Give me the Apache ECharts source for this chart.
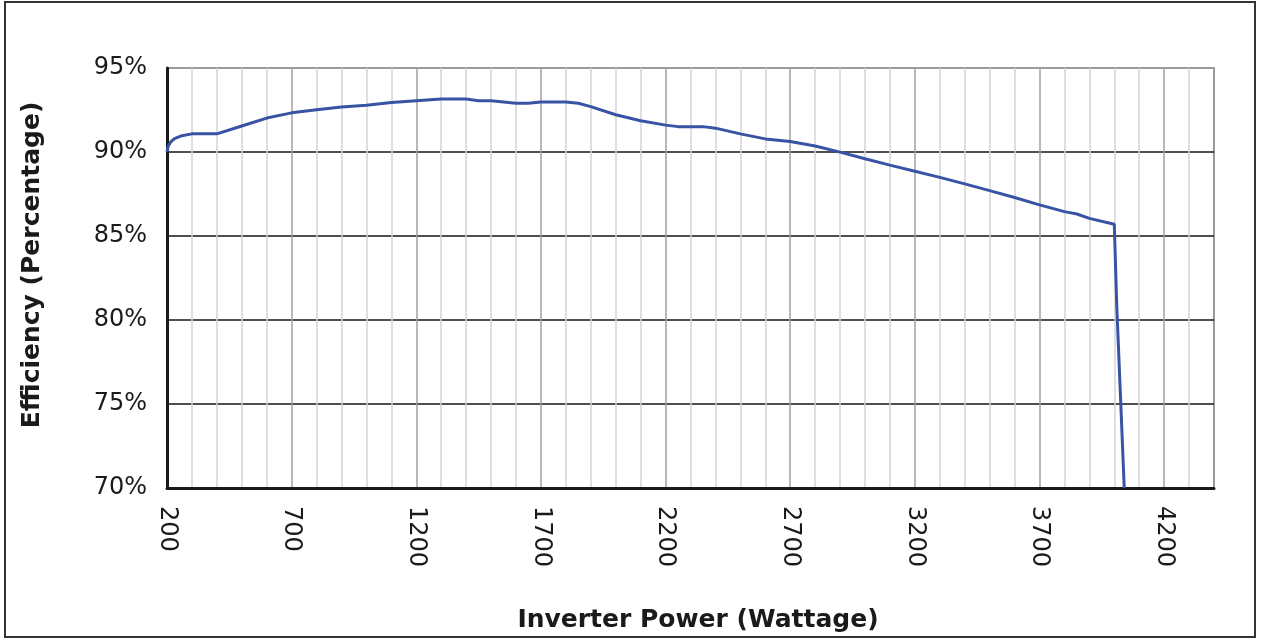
<!DOCTYPE html>
<html>
<head>
<meta charset="utf-8">
<script src="https://cdn.jsdelivr.net/npm/echarts@6/dist/echarts.min.js"></script>
<style>
    html, body { margin: 0; padding: 0; background: #fff; }
    #frame {
        position: absolute; left: 4px; top: 1px; width: 1252px; height: 637px;
        border: 2px solid #333; box-sizing: border-box;
    }
    #chart { position: absolute; left: 0; top: 0; width: 1261px; height: 640px; }
</style>
</head>
<body>
<div id="frame"></div>
<div id="chart"></div>
<script>
    // values
    const powerWatts = [
        200, 205, 215, 230, 260, 300, 400, 500, 600, 700,
        800, 900, 1000, 1100, 1200, 1300, 1400, 1450, 1500, 1600,
        1650, 1700, 1800, 1850, 1900, 2000, 2100, 2200, 2250, 2350,
        2400, 2500, 2600, 2700, 2800, 2900, 3000, 3100, 3200, 3300,
        3400, 3500, 3600, 3700, 3800, 3850, 3900, 4000, 4010, 4040
    ];
    const efficiencyPct = [
        90.0, 90.35, 90.6, 90.8, 90.97, 91.08, 91.08, 91.55, 92.02, 92.33,
        92.52, 92.68, 92.78, 92.95, 93.05, 93.15, 93.15, 93.05, 93.05, 92.9,
        92.9, 92.98, 92.98, 92.9, 92.7, 92.22, 91.86, 91.6, 91.51, 91.51,
        91.42, 91.08, 90.78, 90.63, 90.36, 89.99, 89.6, 89.22, 88.85, 88.49,
        88.1, 87.7, 87.29, 86.85, 86.45, 86.31, 86.05, 85.7, 80.8, 70.0
    ];
    const xLabelStart = 200;
    const xLabelStep = 500;
    const xLabelLast = 4200;

    const font = "DejaVu Sans";
    const chart = echarts.init(document.getElementById("chart"));

    chart.setOption({
        animation: false,
        textStyle: { fontFamily: font },
        grid: {
            left: 167, right: 47, top: 68, bottom: 152,
            show: true, borderColor: "#9a9a9a", borderWidth: 2
        },
        xAxis: {
            type: "value",
            min: 200, max: 4400, interval: 100,
            name: "Inverter Power (Wattage)",
            nameLocation: "middle",
            nameGap: 120,
            nameTextStyle: { fontFamily: font, fontSize: 25, fontWeight: "bold", color: "#1a1a1a", padding: [0, 0, 0, 15] },
            axisLine: { show: true, lineStyle: { color: "#1a1a1a", width: 3 } },
            axisTick: { show: false },
            axisLabel: {
                rotate: -90,
                margin: 18,
                fontSize: 24,
                fontFamily: font,
                color: "#1a1a1a",
                showMaxLabel: false,
                formatter: (v) => ((v - xLabelStart) % xLabelStep === 0 && v <= xLabelLast ? String(v) : "")
            },
            splitLine: {
                show: true,
                showMaxLine: false,
                lineStyle: { color: ["#a0a0a0", "#d4d4d4", "#d4d4d4", "#d4d4d4", "#d4d4d4"], width: 1.5 }
            }
        },
        yAxis: {
            type: "value",
            min: 70, max: 95, interval: 5,
            name: "Efficiency (Percentage)",
            nameLocation: "middle",
            nameRotate: 90,
            nameGap: 122,
            nameTextStyle: { fontFamily: font, fontSize: 25, fontWeight: "bold", color: "#1a1a1a", padding: [0, 0, 0, 26] },
            axisLine: { show: true, lineStyle: { color: "#1a1a1a", width: 3 } },
            axisTick: { show: false },
            axisLabel: {
                margin: 20,
                fontSize: 24,
                fontFamily: font,
                color: "#1a1a1a",
                formatter: "{value}%"
            },
            splitLine: {
                show: true,
                showMaxLine: false,
                lineStyle: { color: "#151515", width: 1.5 }
            }
        },
        series: [{
            type: "line",
            data: powerWatts.map((w, i) => [w, efficiencyPct[i]]),
            showSymbol: false,
            clip: true,
            lineStyle: { color: "#3953a4", width: 3 }
        }]
    });
</script>
</body>
</html>
